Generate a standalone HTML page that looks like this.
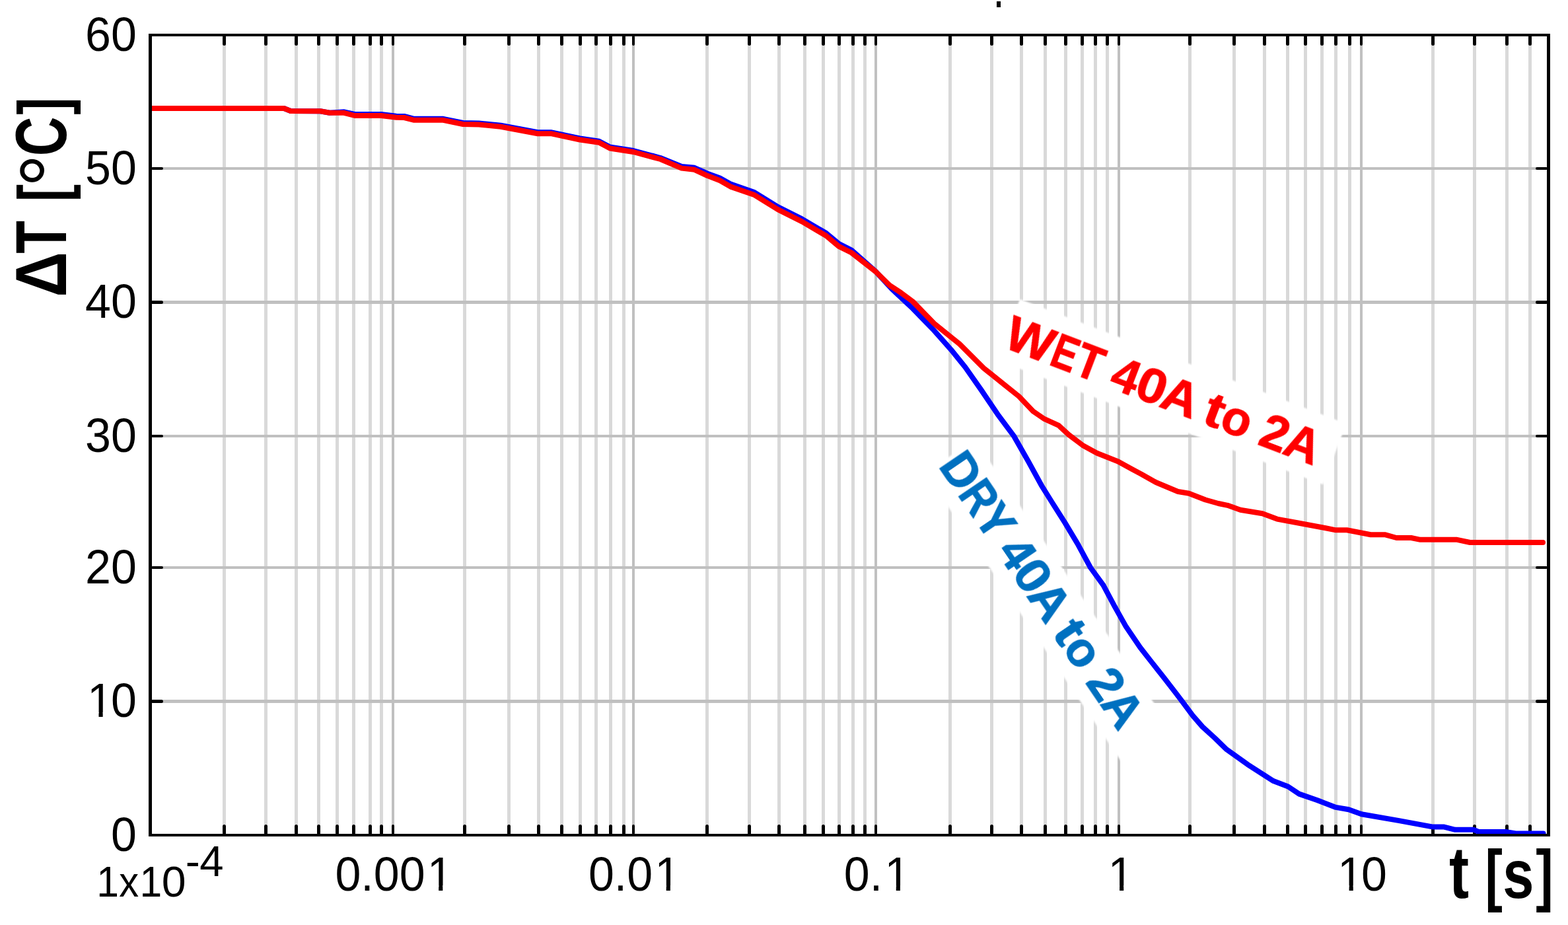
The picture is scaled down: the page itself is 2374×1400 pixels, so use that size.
<!DOCTYPE html>
<html><head><meta charset="utf-8"><title>Delta T vs t</title>
<style>html,body{margin:0;padding:0;background:#fff;width:2374px;height:1400px;overflow:hidden}svg{display:block}text{font-family:"Liberation Sans",Arial,sans-serif}</style>
</head><body>
<svg width="2374" height="1400" viewBox="0 0 2374 1400">
<rect x="0" y="0" width="2374" height="1400" fill="#fff"/>
<g id="vgrid">
<rect x="337" y="55" width="5" height="1207" fill="#d9d9d9"/>
<rect x="400" y="55" width="5" height="1207" fill="#d9d9d9"/>
<rect x="446" y="55" width="5" height="1207" fill="#d9d9d9"/>
<rect x="480" y="55" width="5" height="1207" fill="#d9d9d9"/>
<rect x="508" y="55" width="5" height="1207" fill="#d9d9d9"/>
<rect x="533" y="55" width="5" height="1207" fill="#d9d9d9"/>
<rect x="558" y="55" width="5" height="1207" fill="#d9d9d9"/>
<rect x="575" y="55" width="5" height="1207" fill="#d9d9d9"/>
<rect x="593" y="55" width="4" height="1207" fill="#c0c0c0"/>
<rect x="701" y="55" width="5" height="1207" fill="#d9d9d9"/>
<rect x="768" y="55" width="5" height="1207" fill="#d9d9d9"/>
<rect x="813" y="55" width="5" height="1207" fill="#d9d9d9"/>
<rect x="848" y="55" width="5" height="1207" fill="#d9d9d9"/>
<rect x="876" y="55" width="5" height="1207" fill="#d9d9d9"/>
<rect x="900" y="55" width="5" height="1207" fill="#d9d9d9"/>
<rect x="922" y="55" width="5" height="1207" fill="#d9d9d9"/>
<rect x="942" y="55" width="5" height="1207" fill="#d9d9d9"/>
<rect x="957" y="55" width="4" height="1207" fill="#c0c0c0"/>
<rect x="1068" y="55" width="5" height="1207" fill="#d9d9d9"/>
<rect x="1132" y="55" width="5" height="1207" fill="#d9d9d9"/>
<rect x="1177" y="55" width="5" height="1207" fill="#d9d9d9"/>
<rect x="1216" y="55" width="5" height="1207" fill="#d9d9d9"/>
<rect x="1244" y="55" width="5" height="1207" fill="#d9d9d9"/>
<rect x="1268" y="55" width="5" height="1207" fill="#d9d9d9"/>
<rect x="1289" y="55" width="5" height="1207" fill="#d9d9d9"/>
<rect x="1307" y="55" width="5" height="1207" fill="#d9d9d9"/>
<rect x="1324" y="55" width="4" height="1207" fill="#c0c0c0"/>
<rect x="1436" y="55" width="5" height="1207" fill="#d9d9d9"/>
<rect x="1499" y="55" width="5" height="1207" fill="#d9d9d9"/>
<rect x="1544" y="55" width="5" height="1207" fill="#d9d9d9"/>
<rect x="1580" y="55" width="5" height="1207" fill="#d9d9d9"/>
<rect x="1611" y="55" width="5" height="1207" fill="#d9d9d9"/>
<rect x="1636" y="55" width="5" height="1207" fill="#d9d9d9"/>
<rect x="1656" y="55" width="5" height="1207" fill="#d9d9d9"/>
<rect x="1674" y="55" width="5" height="1207" fill="#d9d9d9"/>
<rect x="1692" y="55" width="4" height="1207" fill="#c0c0c0"/>
<rect x="1799" y="55" width="5" height="1207" fill="#d9d9d9"/>
<rect x="1866" y="55" width="5" height="1207" fill="#d9d9d9"/>
<rect x="1912" y="55" width="5" height="1207" fill="#d9d9d9"/>
<rect x="1947" y="55" width="5" height="1207" fill="#d9d9d9"/>
<rect x="1974" y="55" width="5" height="1207" fill="#d9d9d9"/>
<rect x="1999" y="55" width="5" height="1207" fill="#d9d9d9"/>
<rect x="2020" y="55" width="5" height="1207" fill="#d9d9d9"/>
<rect x="2041" y="55" width="5" height="1207" fill="#d9d9d9"/>
<rect x="2059" y="55" width="4" height="1207" fill="#c0c0c0"/>
<rect x="2167" y="55" width="5" height="1207" fill="#d9d9d9"/>
<rect x="2230" y="55" width="5" height="1207" fill="#d9d9d9"/>
<rect x="2279" y="55" width="5" height="1207" fill="#d9d9d9"/>
<rect x="2314" y="55" width="5" height="1207" fill="#d9d9d9"/>
</g>
<g id="hgrid" fill="#c0c0c0">
<rect x="230" y="253" width="2112" height="4"/>
<rect x="230" y="455" width="2112" height="5"/>
<rect x="230" y="658" width="2112" height="4"/>
<rect x="230" y="857" width="2112" height="4"/>
<rect x="230" y="1059" width="2112" height="5"/>
</g>
<g id="ticks" stroke="#000" stroke-linecap="round">
<line x1="339.5" y1="56" x2="339.5" y2="66.5" stroke-width="5"/>
<line x1="339.5" y1="1261" x2="339.5" y2="1250.5" stroke-width="5"/>
<line x1="402.5" y1="56" x2="402.5" y2="66.5" stroke-width="5"/>
<line x1="402.5" y1="1261" x2="402.5" y2="1250.5" stroke-width="5"/>
<line x1="448.5" y1="56" x2="448.5" y2="66.5" stroke-width="5"/>
<line x1="448.5" y1="1261" x2="448.5" y2="1250.5" stroke-width="5"/>
<line x1="482.5" y1="56" x2="482.5" y2="66.5" stroke-width="5"/>
<line x1="482.5" y1="1261" x2="482.5" y2="1250.5" stroke-width="5"/>
<line x1="510.5" y1="56" x2="510.5" y2="66.5" stroke-width="5"/>
<line x1="510.5" y1="1261" x2="510.5" y2="1250.5" stroke-width="5"/>
<line x1="535.5" y1="56" x2="535.5" y2="66.5" stroke-width="5"/>
<line x1="535.5" y1="1261" x2="535.5" y2="1250.5" stroke-width="5"/>
<line x1="560.5" y1="56" x2="560.5" y2="66.5" stroke-width="5"/>
<line x1="560.5" y1="1261" x2="560.5" y2="1250.5" stroke-width="5"/>
<line x1="577.5" y1="56" x2="577.5" y2="66.5" stroke-width="5"/>
<line x1="577.5" y1="1261" x2="577.5" y2="1250.5" stroke-width="5"/>
<line x1="595.0" y1="56" x2="595.0" y2="67.0" stroke-width="4"/>
<line x1="595.0" y1="1261" x2="595.0" y2="1250.0" stroke-width="4"/>
<line x1="703.5" y1="56" x2="703.5" y2="66.5" stroke-width="5"/>
<line x1="703.5" y1="1261" x2="703.5" y2="1250.5" stroke-width="5"/>
<line x1="770.5" y1="56" x2="770.5" y2="66.5" stroke-width="5"/>
<line x1="770.5" y1="1261" x2="770.5" y2="1250.5" stroke-width="5"/>
<line x1="815.5" y1="56" x2="815.5" y2="66.5" stroke-width="5"/>
<line x1="815.5" y1="1261" x2="815.5" y2="1250.5" stroke-width="5"/>
<line x1="850.5" y1="56" x2="850.5" y2="66.5" stroke-width="5"/>
<line x1="850.5" y1="1261" x2="850.5" y2="1250.5" stroke-width="5"/>
<line x1="878.5" y1="56" x2="878.5" y2="66.5" stroke-width="5"/>
<line x1="878.5" y1="1261" x2="878.5" y2="1250.5" stroke-width="5"/>
<line x1="902.5" y1="56" x2="902.5" y2="66.5" stroke-width="5"/>
<line x1="902.5" y1="1261" x2="902.5" y2="1250.5" stroke-width="5"/>
<line x1="924.5" y1="56" x2="924.5" y2="66.5" stroke-width="5"/>
<line x1="924.5" y1="1261" x2="924.5" y2="1250.5" stroke-width="5"/>
<line x1="944.5" y1="56" x2="944.5" y2="66.5" stroke-width="5"/>
<line x1="944.5" y1="1261" x2="944.5" y2="1250.5" stroke-width="5"/>
<line x1="959.0" y1="56" x2="959.0" y2="67.0" stroke-width="4"/>
<line x1="959.0" y1="1261" x2="959.0" y2="1250.0" stroke-width="4"/>
<line x1="1070.5" y1="56" x2="1070.5" y2="66.5" stroke-width="5"/>
<line x1="1070.5" y1="1261" x2="1070.5" y2="1250.5" stroke-width="5"/>
<line x1="1134.5" y1="56" x2="1134.5" y2="66.5" stroke-width="5"/>
<line x1="1134.5" y1="1261" x2="1134.5" y2="1250.5" stroke-width="5"/>
<line x1="1179.5" y1="56" x2="1179.5" y2="66.5" stroke-width="5"/>
<line x1="1179.5" y1="1261" x2="1179.5" y2="1250.5" stroke-width="5"/>
<line x1="1218.5" y1="56" x2="1218.5" y2="66.5" stroke-width="5"/>
<line x1="1218.5" y1="1261" x2="1218.5" y2="1250.5" stroke-width="5"/>
<line x1="1246.5" y1="56" x2="1246.5" y2="66.5" stroke-width="5"/>
<line x1="1246.5" y1="1261" x2="1246.5" y2="1250.5" stroke-width="5"/>
<line x1="1270.5" y1="56" x2="1270.5" y2="66.5" stroke-width="5"/>
<line x1="1270.5" y1="1261" x2="1270.5" y2="1250.5" stroke-width="5"/>
<line x1="1291.5" y1="56" x2="1291.5" y2="66.5" stroke-width="5"/>
<line x1="1291.5" y1="1261" x2="1291.5" y2="1250.5" stroke-width="5"/>
<line x1="1309.5" y1="56" x2="1309.5" y2="66.5" stroke-width="5"/>
<line x1="1309.5" y1="1261" x2="1309.5" y2="1250.5" stroke-width="5"/>
<line x1="1326.0" y1="56" x2="1326.0" y2="67.0" stroke-width="4"/>
<line x1="1326.0" y1="1261" x2="1326.0" y2="1250.0" stroke-width="4"/>
<line x1="1438.5" y1="56" x2="1438.5" y2="66.5" stroke-width="5"/>
<line x1="1438.5" y1="1261" x2="1438.5" y2="1250.5" stroke-width="5"/>
<line x1="1501.5" y1="56" x2="1501.5" y2="66.5" stroke-width="5"/>
<line x1="1501.5" y1="1261" x2="1501.5" y2="1250.5" stroke-width="5"/>
<line x1="1546.5" y1="56" x2="1546.5" y2="66.5" stroke-width="5"/>
<line x1="1546.5" y1="1261" x2="1546.5" y2="1250.5" stroke-width="5"/>
<line x1="1582.5" y1="56" x2="1582.5" y2="66.5" stroke-width="5"/>
<line x1="1582.5" y1="1261" x2="1582.5" y2="1250.5" stroke-width="5"/>
<line x1="1613.5" y1="56" x2="1613.5" y2="66.5" stroke-width="5"/>
<line x1="1613.5" y1="1261" x2="1613.5" y2="1250.5" stroke-width="5"/>
<line x1="1638.5" y1="56" x2="1638.5" y2="66.5" stroke-width="5"/>
<line x1="1638.5" y1="1261" x2="1638.5" y2="1250.5" stroke-width="5"/>
<line x1="1658.5" y1="56" x2="1658.5" y2="66.5" stroke-width="5"/>
<line x1="1658.5" y1="1261" x2="1658.5" y2="1250.5" stroke-width="5"/>
<line x1="1676.5" y1="56" x2="1676.5" y2="66.5" stroke-width="5"/>
<line x1="1676.5" y1="1261" x2="1676.5" y2="1250.5" stroke-width="5"/>
<line x1="1694.0" y1="56" x2="1694.0" y2="67.0" stroke-width="4"/>
<line x1="1694.0" y1="1261" x2="1694.0" y2="1250.0" stroke-width="4"/>
<line x1="1801.5" y1="56" x2="1801.5" y2="66.5" stroke-width="5"/>
<line x1="1801.5" y1="1261" x2="1801.5" y2="1250.5" stroke-width="5"/>
<line x1="1868.5" y1="56" x2="1868.5" y2="66.5" stroke-width="5"/>
<line x1="1868.5" y1="1261" x2="1868.5" y2="1250.5" stroke-width="5"/>
<line x1="1914.5" y1="56" x2="1914.5" y2="66.5" stroke-width="5"/>
<line x1="1914.5" y1="1261" x2="1914.5" y2="1250.5" stroke-width="5"/>
<line x1="1949.5" y1="56" x2="1949.5" y2="66.5" stroke-width="5"/>
<line x1="1949.5" y1="1261" x2="1949.5" y2="1250.5" stroke-width="5"/>
<line x1="1976.5" y1="56" x2="1976.5" y2="66.5" stroke-width="5"/>
<line x1="1976.5" y1="1261" x2="1976.5" y2="1250.5" stroke-width="5"/>
<line x1="2001.5" y1="56" x2="2001.5" y2="66.5" stroke-width="5"/>
<line x1="2001.5" y1="1261" x2="2001.5" y2="1250.5" stroke-width="5"/>
<line x1="2022.5" y1="56" x2="2022.5" y2="66.5" stroke-width="5"/>
<line x1="2022.5" y1="1261" x2="2022.5" y2="1250.5" stroke-width="5"/>
<line x1="2043.5" y1="56" x2="2043.5" y2="66.5" stroke-width="5"/>
<line x1="2043.5" y1="1261" x2="2043.5" y2="1250.5" stroke-width="5"/>
<line x1="2061.0" y1="56" x2="2061.0" y2="67.0" stroke-width="4"/>
<line x1="2061.0" y1="1261" x2="2061.0" y2="1250.0" stroke-width="4"/>
<line x1="2169.5" y1="56" x2="2169.5" y2="66.5" stroke-width="5"/>
<line x1="2169.5" y1="1261" x2="2169.5" y2="1250.5" stroke-width="5"/>
<line x1="2232.5" y1="56" x2="2232.5" y2="66.5" stroke-width="5"/>
<line x1="2232.5" y1="1261" x2="2232.5" y2="1250.5" stroke-width="5"/>
<line x1="2281.5" y1="56" x2="2281.5" y2="66.5" stroke-width="5"/>
<line x1="2281.5" y1="1261" x2="2281.5" y2="1250.5" stroke-width="5"/>
<line x1="2316.5" y1="56" x2="2316.5" y2="66.5" stroke-width="5"/>
<line x1="2316.5" y1="1261" x2="2316.5" y2="1250.5" stroke-width="5"/>
<line x1="231" y1="255.0" x2="245.0" y2="255.0" stroke-width="4"/>
<line x1="2341" y1="255.0" x2="2327.0" y2="255.0" stroke-width="4"/>
<line x1="231" y1="457.5" x2="244.5" y2="457.5" stroke-width="5"/>
<line x1="2341" y1="457.5" x2="2327.5" y2="457.5" stroke-width="5"/>
<line x1="231" y1="660.0" x2="245.0" y2="660.0" stroke-width="4"/>
<line x1="2341" y1="660.0" x2="2327.0" y2="660.0" stroke-width="4"/>
<line x1="231" y1="859.0" x2="245.0" y2="859.0" stroke-width="4"/>
<line x1="2341" y1="859.0" x2="2327.0" y2="859.0" stroke-width="4"/>
<line x1="231" y1="1061.5" x2="244.5" y2="1061.5" stroke-width="5"/>
<line x1="2341" y1="1061.5" x2="2327.5" y2="1061.5" stroke-width="5"/>
</g>
<defs><filter id="soft" x="-5%" y="-20%" width="110%" height="140%"><feGaussianBlur stdDeviation="0.8"/></filter></defs>
<g filter="url(#soft)"><rect transform="rotate(20.90)" x="1604" y="-128" width="529" height="98.6" fill="#fff"/>
<rect transform="rotate(55.80)" x="1379.5" y="-847" width="528" height="90.8" fill="#fff"/></g>
<polyline points="231.0,164.0 430.0,164.0 440.0,168.0 485.0,168.2 499.0,170.8 521.0,169.3 537.0,173.0 577.0,173.0 600.0,175.8 612.0,176.0 627.0,179.8 671.0,179.8 701.0,186.0 725.0,186.6 758.0,189.7 814.0,200.2 834.0,200.2 878.0,209.5 907.0,213.7 923.5,222.5 959.0,228.0 1000.0,239.0 1032.0,252.0 1051.4,253.8 1070.7,262.4 1090.0,269.5 1107.0,278.9 1141.4,290.7 1177.8,313.2 1214.2,331.4 1250.7,352.8 1270.0,368.9 1289.2,378.5 1326.0,411.0 1350.0,437.1 1382.1,467.1 1414.3,500.3 1440.0,529.3 1461.4,555.7 1486.4,591.4 1510.5,627.1 1534.6,659.3 1557.0,698.6 1576.6,734.3 1592.6,760.0 1612.5,791.4 1631.4,822.9 1651.0,859.0 1670.4,885.7 1687.2,917.1 1704.9,948.6 1726.3,980.0 1744.2,1002.9 1762.3,1025.7 1780.0,1048.6 1789.7,1061.4 1805.7,1082.9 1820.6,1100.0 1839.4,1117.1 1857.1,1134.3 1889.0,1157.1 1928.0,1182.1 1950.2,1190.5 1966.9,1201.6 1994.7,1211.3 2022.5,1221.9 2042.0,1225.2 2061.4,1232.2 2117.0,1241.9 2169.8,1251.6 2186.5,1251.6 2203.2,1255.8 2231.0,1255.8 2239.3,1259.1 2281.0,1259.1 2294.9,1261.4 2336.6,1261.4" fill="none" stroke="#0000ff" stroke-width="8" stroke-linejoin="round" stroke-linecap="round"/>
<polyline points="231.0,164.0 430.0,164.0 440.0,168.0 485.0,168.2 499.0,170.8 521.0,170.8 537.0,175.0 577.0,175.0 600.0,177.8 612.0,178.0 627.0,181.8 671.0,181.8 701.0,188.0 725.0,188.6 758.0,191.7 814.0,202.2 834.0,202.2 878.0,211.5 907.0,215.7 923.5,224.5 959.0,230.0 1000.0,241.0 1032.0,254.6 1051.4,256.8 1070.7,265.8 1090.0,273.3 1107.0,282.9 1141.4,294.7 1177.8,317.2 1214.2,335.4 1250.7,356.8 1270.0,372.9 1289.2,382.5 1325.7,411.0 1347.0,431.8 1364.2,443.2 1382.0,456.4 1414.3,489.6 1452.8,520.7 1489.3,557.1 1521.4,582.8 1542.8,600.0 1564.2,622.5 1581.4,634.2 1602.8,643.9 1617.8,657.8 1639.2,673.9 1660.7,685.7 1692.8,698.5 1714.2,710.3 1727.8,717.5 1750.0,730.0 1783.4,744.0 1800.0,746.7 1825.1,756.5 1844.6,762.0 1858.5,764.8 1877.9,771.7 1911.3,777.3 1933.5,785.6 1964.1,791.2 2005.8,799.0 2022.5,802.3 2039.2,802.3 2075.3,809.3 2097.5,809.3 2114.2,814.0 2136.5,814.0 2150.4,816.8 2206.0,816.8 2225.5,821.0 2336.0,821.0" fill="none" stroke="#ff0000" stroke-width="8" stroke-linejoin="round" stroke-linecap="round"/>
<g fill="#000"><rect x="225" y="51" width="2122" height="4"/><rect x="225" y="1262" width="2122" height="4"/><rect x="225" y="51" width="5" height="1215"/><rect x="2342" y="51" width="5" height="1215"/></g>
<rect x="1509" y="2" width="6" height="9" fill="#000"/>
<g font-size="72" fill="#000" mask="url(#nofoot)">
<text transform="matrix(0.972,0,0,1,5.79,0)" x="166.76" y="1287.9">0</text>
<text transform="matrix(0.972,0,0,1,5.79,0)" x="129.80 166.76" y="1085.4">10</text>
<text transform="matrix(0.972,0,0,1,5.79,0)" x="126.71 166.76" y="882.9">20</text>
<text transform="matrix(0.972,0,0,1,5.79,0)" x="126.71 166.76" y="683.9">30</text>
<text transform="matrix(0.972,0,0,1,5.79,0)" x="126.71 166.76" y="481.4">40</text>
<text transform="matrix(0.972,0,0,1,5.79,0)" x="126.71 166.76" y="278.9">50</text>
<text transform="matrix(0.972,0,0,1,5.79,0)" x="126.71 166.76" y="76.9">60</text>
<text transform="matrix(0.972,0,0,1,16.66,0)" x="504.91 544.96 564.96 605.00 648.13" y="1347.9">0.001</text>
<text transform="matrix(0.972,0,0,1,26.85,0)" x="888.93 928.98 948.98 992.11" y="1347.9">0.01</text>
<text transform="matrix(0.972,0,0,1,37.14,0)" x="1276.46 1316.50 1339.59" y="1347.9">0.1</text>
<text transform="matrix(0.972,0,0,1,47.43,0)" x="1677.06" y="1347.9">1</text>
<text transform="matrix(0.972,0,0,1,57.71,0)" x="2024.04 2061.00" y="1347.9">10</text>
</g>
<mask id="nofoot" maskUnits="userSpaceOnUse" x="0" y="0" width="2374" height="1400"><rect x="0" y="0" width="2374" height="1400" fill="#fff"/>
<rect x="131.96" y="1078.00" width="17.53" height="10.00" fill="#000"/>
<rect x="155.65" y="1078.00" width="15.50" height="10.00" fill="#000"/>
<rect x="646.64" y="1340.00" width="17.53" height="10.00" fill="#000"/>
<rect x="670.33" y="1340.00" width="15.50" height="10.00" fill="#000"/>
<rect x="991.18" y="1340.00" width="17.53" height="10.00" fill="#000"/>
<rect x="1014.87" y="1340.00" width="15.50" height="10.00" fill="#000"/>
<rect x="1339.22" y="1340.00" width="17.53" height="10.00" fill="#000"/>
<rect x="1362.91" y="1340.00" width="15.50" height="10.00" fill="#000"/>
<rect x="1677.54" y="1340.00" width="17.53" height="10.00" fill="#000"/>
<rect x="1701.23" y="1340.00" width="15.50" height="10.00" fill="#000"/>
<rect x="2025.08" y="1340.00" width="17.53" height="10.00" fill="#000"/>
<rect x="2048.77" y="1340.00" width="15.50" height="10.00" fill="#000"/>
</mask>
<text font-size="65" fill="#000"><tspan x="146.20" y="1357.00" textLength="33.71" lengthAdjust="spacingAndGlyphs">1</tspan><tspan x="180.19" y="1357.00" textLength="29.89" lengthAdjust="spacingAndGlyphs">x</tspan><tspan x="211.62" y="1357.00" textLength="33.71" lengthAdjust="spacingAndGlyphs">1</tspan><tspan x="244.71" y="1357.00" textLength="36.85" lengthAdjust="spacingAndGlyphs">0</tspan></text>
<text font-size="65" fill="#000"><tspan x="280.79" y="1325.70" textLength="22.16" lengthAdjust="spacingAndGlyphs">-</tspan><tspan x="302.20" y="1325.70" textLength="36.35" lengthAdjust="spacingAndGlyphs">4</tspan></text>
<text transform="translate(100,446) rotate(-90)" font-size="109.0" font-weight="bold" fill="#000"><tspan x="-3.87" y="0.00" textLength="68.69" lengthAdjust="spacingAndGlyphs">Δ</tspan><tspan x="62.18" y="0.00" textLength="49.79" lengthAdjust="spacingAndGlyphs">T</tspan> <tspan x="140.64" y="0.00" textLength="26.42" lengthAdjust="spacingAndGlyphs" font-size="104.0">[</tspan><tspan x="162.76" y="21.50" textLength="49.94" lengthAdjust="spacingAndGlyphs" font-size="132.0" font-weight="normal">°</tspan><tspan x="209.71" y="0.00" textLength="59.65" lengthAdjust="spacingAndGlyphs">C</tspan><tspan x="272.24" y="0.00" textLength="26.30" lengthAdjust="spacingAndGlyphs" font-size="104.0">]</tspan></text>
<text font-size="104" font-weight="bold" fill="#000"><tspan x="2193.90" y="1358.70" textLength="30.11" lengthAdjust="spacingAndGlyphs" font-size="111.0">t</tspan> <tspan x="2248.44" y="1358.70" textLength="26.42" lengthAdjust="spacingAndGlyphs">[</tspan><tspan x="2275.22" y="1358.70" textLength="47.16" lengthAdjust="spacingAndGlyphs">s</tspan><tspan x="2325.23" y="1358.70" textLength="26.42" lengthAdjust="spacingAndGlyphs">]</tspan></text>
<text transform="rotate(20.90)" font-size="75.0" font-weight="bold" fill="#ff0000" stroke="#ff0000" stroke-width="1.0"><tspan x="1604.08" y="-50.80" textLength="73.20" lengthAdjust="spacingAndGlyphs">W</tspan><tspan x="1678.42" y="-50.80" textLength="38.32" lengthAdjust="spacingAndGlyphs">E</tspan><tspan x="1717.25" y="-50.80" textLength="40.32" lengthAdjust="spacingAndGlyphs">T</tspan> <tspan x="1775.46" y="-50.80" textLength="40.94" lengthAdjust="spacingAndGlyphs">4</tspan><tspan x="1815.75" y="-50.80" textLength="44.34" lengthAdjust="spacingAndGlyphs">0</tspan><tspan x="1856.83" y="-50.80" textLength="52.88" lengthAdjust="spacingAndGlyphs">A</tspan> <tspan x="1925.94" y="-50.80" textLength="28.35" lengthAdjust="spacingAndGlyphs">t</tspan><tspan x="1954.06" y="-50.80" textLength="44.53" lengthAdjust="spacingAndGlyphs">o</tspan> <tspan x="2016.78" y="-50.80" textLength="41.23" lengthAdjust="spacingAndGlyphs">2</tspan><tspan x="2056.19" y="-50.80" textLength="52.88" lengthAdjust="spacingAndGlyphs">A</tspan></text>
<text transform="rotate(55.80)" font-size="75.0" font-weight="bold" fill="#0070c0" stroke="#0070c0" stroke-width="1.0"><tspan x="1381.32" y="-778.00" textLength="52.40" lengthAdjust="spacingAndGlyphs">D</tspan><tspan x="1432.97" y="-778.00" textLength="45.56" lengthAdjust="spacingAndGlyphs">R</tspan><tspan x="1476.27" y="-778.00" textLength="45.42" lengthAdjust="spacingAndGlyphs">Y</tspan> <tspan x="1537.75" y="-778.00" textLength="40.64" lengthAdjust="spacingAndGlyphs">4</tspan><tspan x="1577.75" y="-778.00" textLength="44.01" lengthAdjust="spacingAndGlyphs">0</tspan><tspan x="1618.52" y="-778.00" textLength="52.49" lengthAdjust="spacingAndGlyphs">A</tspan> <tspan x="1687.12" y="-778.00" textLength="28.14" lengthAdjust="spacingAndGlyphs">t</tspan><tspan x="1715.03" y="-778.00" textLength="44.20" lengthAdjust="spacingAndGlyphs">o</tspan> <tspan x="1777.29" y="-778.00" textLength="40.93" lengthAdjust="spacingAndGlyphs">2</tspan><tspan x="1816.42" y="-778.00" textLength="52.49" lengthAdjust="spacingAndGlyphs">A</tspan></text>
</svg></body></html>
